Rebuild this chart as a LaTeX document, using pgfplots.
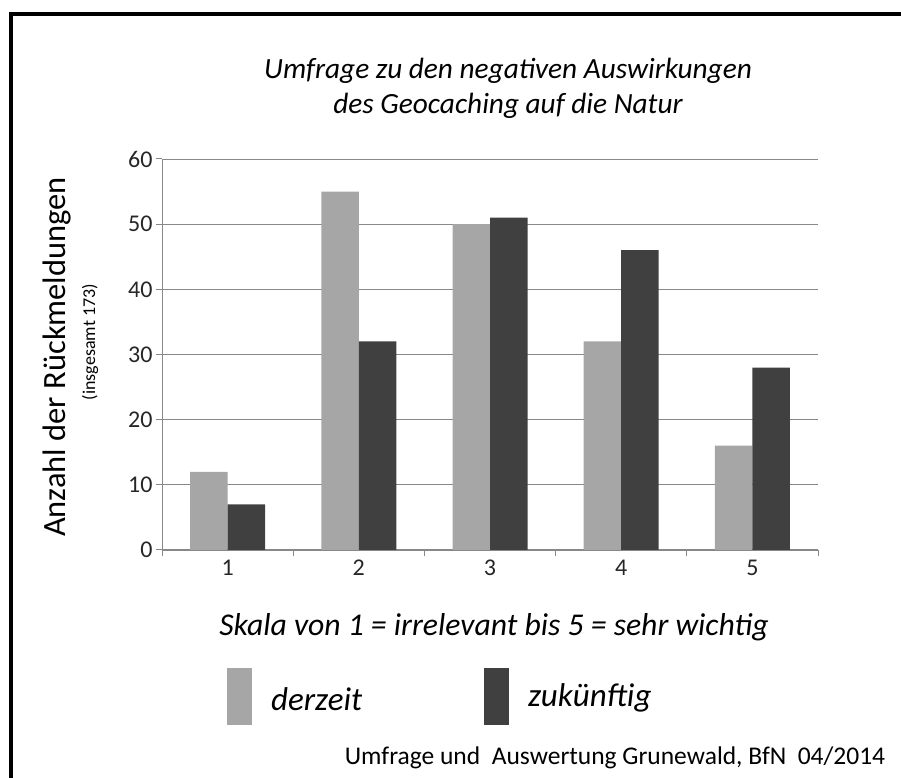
\documentclass[border=0pt]{standalone}
\usepackage{pgfplots}
\pgfplotsset{compat=1.18}
\usepackage{fontspec}
\setmainfont{Carlito}
\definecolor{lightbar}{HTML}{A6A6A6}
\definecolor{darkbar}{HTML}{404040}
\definecolor{gridc}{HTML}{888888}
\begin{document}
\begin{tikzpicture}[x=1pt,y=1pt]
\useasboundingbox (0,0) rectangle (901,778);
\draw[line width=4pt] (10.7,0) -- (10.7,764) -- (901,764);
\begin{axis}[
  at={(162pt,228pt)}, anchor=south west,
  scale only axis, width=656pt, height=391pt,
  xmin=0.5, xmax=5.5, ymin=0, ymax=60,
  ybar=0pt, bar width=37.5pt,
  axis lines*=left,
  axis line style={gridc, line width=1pt},
  ytick={0,10,...,60},
  xtick={1,2,3,4,5},
  ymajorgrids, grid style={gridc, line width=0.8pt},
  tick align=outside, major tick length=6pt,
  every tick/.style={gridc, line width=1pt},
  major x tick style={draw=none},
  extra x ticks={0.5,1.5,2.5,3.5,4.5,5.5},
  extra x tick labels={},
  extra x tick style={grid=none, major x tick style={draw=gridc}},
  /pgf/number format/assume math mode=true,
  tick label style={font=\fontsize{24}{26}\selectfont, text=black!85},
  xticklabel style={text height=16pt, text depth=0pt},
  legend style={at={(0.099,-0.375)}, anchor=west, draw=none, fill=none,
    legend columns=2, font=\fontsize{33}{36}\selectfont\itshape,
    /tikz/every odd column/.append style={column sep=17pt},
    /tikz/every even column/.append style={column sep=120pt},
    inner sep=0pt},
  legend image code/.code={\fill[#1] (0pt,-28pt) rectangle (25pt,29pt);},
]
\addplot[fill=lightbar, draw=none] coordinates {(1,12) (2,55) (3,50) (4,32) (5,16)};
\addplot[fill=darkbar, draw=none] coordinates {(1,7) (2,32) (3,51) (4,46) (5,28)};
\legend{\raisebox{-6pt}{derzeit}, \raisebox{3pt}{zukünftig}}
\end{axis}
\node[font=\fontsize{29.3}{35}\selectfont\itshape, align=center] at (508,690) {Umfrage zu den negativen Auswirkungen\\des Geocaching auf die Natur};
\node[rotate=90, font=\fontsize{32.5}{36}\selectfont] at (57,421) {Anzahl der Rückmeldungen};
\node[rotate=90, font=\fontsize{18}{20}\selectfont] at (90,436) {(insgesamt 173)};
\node[font=\fontsize{31.7}{34}\selectfont\itshape] at (494,151) {Skala von 1 = irrelevant bis 5 = sehr wichtig};
\node[font=\fontsize{25.5}{28}\selectfont] at (615,20) {Umfrage und\ \ Auswertung Grunewald, BfN\ \ 04/2014};
\end{tikzpicture}
\end{document}
